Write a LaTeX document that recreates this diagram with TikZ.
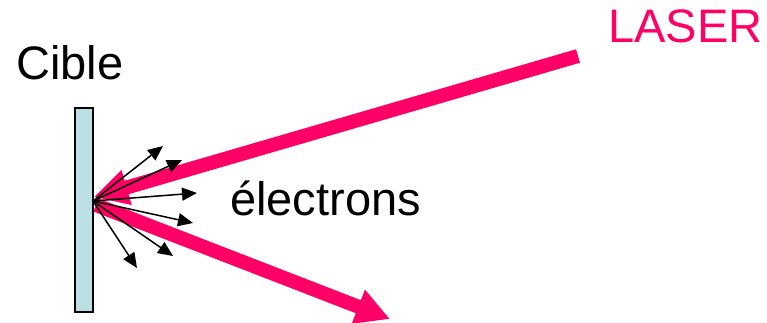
\documentclass[tikz,border=0pt]{standalone}
\usepackage{fontspec}
\setmainfont{Liberation Sans}
\usetikzlibrary{arrows.meta}
\definecolor{laserpink}{HTML}{FF0066}
\definecolor{platecyan}{HTML}{BBDFE2}
\tikzset{
  label text/.style={anchor=base west, inner sep=0pt, font=\fontsize{47}{52}\selectfont},
  beam/.style={draw=laserpink, line width=14pt, -{Triangle[length=34pt,width=34pt]}, color=laserpink},
  electron/.style={draw=black, line width=1.5pt, -{Triangle[length=15pt,width=13pt]}},
  plate/.style={draw=black, line width=1.8pt, fill=platecyan}
}
\begin{document}
\begin{tikzpicture}[x=1pt,y=-1pt]
  \useasboundingbox (0,0) rectangle (767,323);

  % target plate
  \draw[plate] (75,108) rectangle (93,312);

  % labels
  \node[label text] (cible) at (16,80) {Cible};
  \node[label text] (elec) at (230,215) {électrons};
  \node[label text, text=laserpink] (laser) at (608,43) {LASER};

  % laser beam: incoming and reflected
  \coordinate (src) at (578,56);
  \coordinate (hit) at (94,197);
  \coordinate (refl0) at (96,205);
  \coordinate (refl) at (390,319);
  \draw[beam] (src) -- (hit);
  \draw[beam] (refl0) -- (refl);

  % emitted electrons
  \coordinate (o) at (93,201);
  \coordinate (e1) at (163,146);
  \coordinate (e2) at (182,160);
  \coordinate (e3) at (197,193);
  \coordinate (e4) at (193,223);
  \coordinate (e5) at (173,256);
  \coordinate (e6) at (137,268);
  \foreach \e in {e1,e2,e3,e4,e5,e6}
    \draw[electron] (o) -- (\e);
\end{tikzpicture}
\end{document}
